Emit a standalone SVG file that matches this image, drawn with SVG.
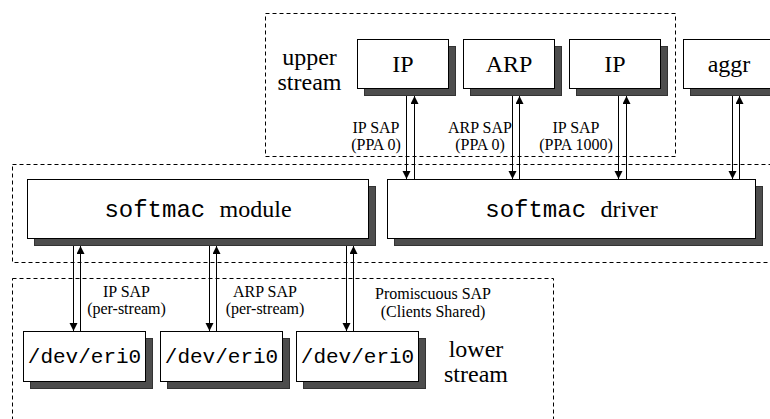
<svg xmlns="http://www.w3.org/2000/svg" width="770" height="419" viewBox="0 0 770 419">
<style>
.bg{fill:#fff}
.zone{fill:none;stroke:#000;stroke-width:1;stroke-dasharray:4,3}
.box{fill:#fff;stroke:#000;stroke-width:1}
.shadow{fill:#4d4d4d;stroke:#333;stroke-width:1}
.con{stroke:#000;stroke-width:1;fill:none;marker-end:url(#ah)}
.lbl{font-size:24px;fill:#000;text-anchor:middle}
.dev{font-size:21px;fill:#000;text-anchor:middle}
.sap{font-size:16px;fill:#000;text-anchor:middle}
</style>
<defs>
<marker id="ah" markerUnits="userSpaceOnUse" markerWidth="8" markerHeight="13" viewBox="0 0 8 13" refX="8" refY="4" orient="auto">
<path d="M0,0 L8,4 L0,8 Z" fill="#000"/>
</marker>
</defs>
<rect class="bg" x="0" y="0" width="770" height="419"/>

<g id="zones" font-family="Liberation Serif, Times New Roman, serif">
<rect class="zone" x="265.5" y="13.5" width="410" height="143"/>
<rect class="zone" x="12.5" y="164.5" width="780" height="98"/>
<rect class="zone" x="12.5" y="278.5" width="541" height="160"/>
<text class="lbl" x="309.5" y="65">upper</text>
<text class="lbl" x="309.5" y="90">stream</text>
<text class="lbl" x="476" y="357">lower</text>
<text class="lbl" x="476" y="382">stream</text>
</g>

<g id="connectors" font-family="Liberation Serif, Times New Roman, serif">
<line class="con" x1="406.5" y1="88" x2="406.5" y2="179"/>
<line class="con" x1="414.5" y1="179" x2="414.5" y2="96"/>
<line class="con" x1="512.5" y1="88" x2="512.5" y2="179"/>
<line class="con" x1="519.5" y1="179" x2="519.5" y2="96"/>
<line class="con" x1="618.5" y1="88" x2="618.5" y2="179"/>
<line class="con" x1="626.5" y1="179" x2="626.5" y2="96"/>
<line class="con" x1="732.5" y1="88" x2="732.5" y2="179"/>
<line class="con" x1="739.5" y1="179" x2="739.5" y2="96"/>
<line class="con" x1="73.5" y1="238" x2="73.5" y2="331"/>
<line class="con" x1="80.5" y1="331" x2="80.5" y2="246"/>
<line class="con" x1="209.5" y1="238" x2="209.5" y2="331"/>
<line class="con" x1="216.5" y1="331" x2="216.5" y2="246"/>
<line class="con" x1="346.5" y1="238" x2="346.5" y2="331"/>
<line class="con" x1="353.5" y1="331" x2="353.5" y2="246"/>
<text class="sap" x="376" y="132.5">IP SAP</text>
<text class="sap" x="376" y="150">(PPA 0)</text>
<text class="sap" x="480" y="132.5">ARP SAP</text>
<text class="sap" x="480" y="150">(PPA 0)</text>
<text class="sap" x="576" y="132.5">IP SAP</text>
<text class="sap" x="576" y="150">(PPA 1000)</text>
<text class="sap" x="126.5" y="297">IP SAP</text>
<text class="sap" x="126.5" y="314">(per-stream)</text>
<text class="sap" x="265" y="297">ARP SAP</text>
<text class="sap" x="265" y="314">(per-stream)</text>
<text class="sap" x="433" y="299">Promiscuous SAP</text>
<text class="sap" x="433" y="317">(Clients Shared)</text>
</g>

<g id="ip1" font-family="Liberation Serif, Times New Roman, serif">
<rect class="shadow" x="364.5" y="46.5" width="91" height="49"/>
<rect class="box" x="357.5" y="39.5" width="91" height="49"/>
<text class="lbl" x="403" y="72">IP</text>
</g>
<g id="arp" font-family="Liberation Serif, Times New Roman, serif">
<rect class="shadow" x="470.5" y="46.5" width="91" height="49"/>
<rect class="box" x="463.5" y="39.5" width="91" height="49"/>
<text class="lbl" x="509" y="72">ARP</text>
</g>
<g id="ip2" font-family="Liberation Serif, Times New Roman, serif">
<rect class="shadow" x="576.5" y="46.5" width="91" height="49"/>
<rect class="box" x="569.5" y="39.5" width="91" height="49"/>
<text class="lbl" x="615" y="72">IP</text>
</g>
<g id="aggr" font-family="Liberation Serif, Times New Roman, serif">
<rect class="shadow" x="690.5" y="46.5" width="91" height="49"/>
<rect class="box" x="683.5" y="39.5" width="91" height="49"/>
<text class="lbl" x="729" y="72">aggr</text>
</g>

<g id="softmac-module" font-family="Liberation Serif, Times New Roman, serif">
<rect class="shadow" x="34.5" y="186.5" width="341" height="59"/>
<rect class="box" x="27.5" y="179.5" width="341" height="59"/>
<text class="lbl" x="198" y="217"><tspan font-family="Liberation Mono, Courier New, monospace">softmac </tspan><tspan>module</tspan></text>
</g>
<g id="softmac-driver" font-family="Liberation Serif, Times New Roman, serif">
<rect class="shadow" x="394.5" y="186.5" width="368" height="59"/>
<rect class="box" x="387.5" y="179.5" width="368" height="59"/>
<text class="lbl" x="571.5" y="217"><tspan font-family="Liberation Mono, Courier New, monospace">softmac </tspan><tspan>driver</tspan></text>
</g>

<g id="eri0-a" font-family="Liberation Mono, Courier New, monospace">
<rect class="shadow" x="30.5" y="338.5" width="122" height="50"/>
<rect class="box" x="23.5" y="331.5" width="122" height="50"/>
<text class="dev" x="84.5" y="363">/dev/eri0</text>
</g>
<g id="eri0-b" font-family="Liberation Mono, Courier New, monospace">
<rect class="shadow" x="167.5" y="338.5" width="122" height="50"/>
<rect class="box" x="160.5" y="331.5" width="122" height="50"/>
<text class="dev" x="221.5" y="363">/dev/eri0</text>
</g>
<g id="eri0-c" font-family="Liberation Mono, Courier New, monospace">
<rect class="shadow" x="303.5" y="338.5" width="122" height="50"/>
<rect class="box" x="296.5" y="331.5" width="122" height="50"/>
<text class="dev" x="357.5" y="363">/dev/eri0</text>
</g>
</svg>
